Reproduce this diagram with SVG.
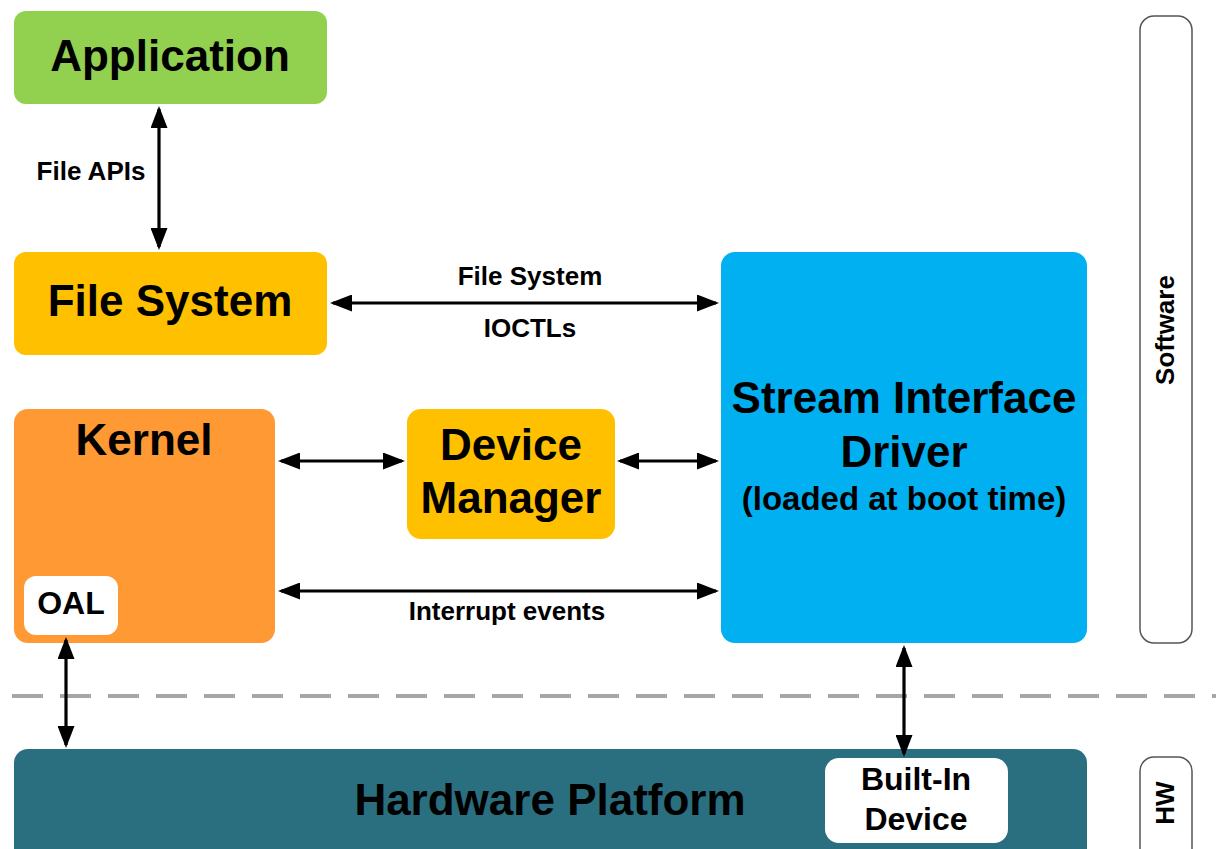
<svg xmlns="http://www.w3.org/2000/svg" width="1216" height="849" viewBox="0 0 1216 849">
<defs>
<style>
text{font-family:"Liberation Sans",Arial,sans-serif;font-weight:bold;fill:#000;text-anchor:middle}
.big{font-size:44px}
.mid{font-size:32px}
.lbl{font-size:26px}
.conn{stroke:#000;stroke-width:3.2;fill:none}
.side{fill:#fff;stroke:#555;stroke-width:1.5}
</style>
<marker id="ah" viewBox="0 0 22 17" refX="19" refY="8.5" markerWidth="22" markerHeight="17" markerUnits="userSpaceOnUse" orient="auto-start-reverse">
<path d="M0,0 L22,8.5 L0,17 z" fill="#000"/>
</marker>
</defs>
<rect width="1216" height="849" fill="#fff"/>

<line x1="12" y1="696" x2="1216" y2="696" stroke="#A6A6A6" stroke-width="4" stroke-dasharray="31 17"/>

<g id="application">
<rect x="14" y="11" width="313" height="93" rx="12" fill="#92D050"/>
<text class="big" x="170" y="71">Application</text>
</g>
<g id="filesystem">
<rect x="14" y="252" width="313" height="103" rx="12" fill="#FFC000"/>
<text class="big" x="170" y="316">File System</text>
</g>
<g id="kernel">
<rect x="14" y="409" width="261" height="234" rx="14" fill="#FF9933"/>
<text class="big" x="144" y="455">Kernel</text>
</g>
<g id="oal">
<rect x="24" y="576" width="94" height="59" rx="12" fill="#fff"/>
<text class="mid" x="71" y="614">OAL</text>
</g>
<g id="devicemanager">
<rect x="407" y="409" width="208" height="130" rx="14" fill="#FFC000"/>
<text class="big" x="511" y="460">Device</text>
<text class="big" x="511" y="513">Manager</text>
</g>
<g id="streamdriver">
<rect x="721" y="252" width="366" height="391" rx="14" fill="#00B0F0"/>
<text class="big" x="904" y="413">Stream Interface</text>
<text class="big" x="904" y="467">Driver</text>
<text style="font-size:33px" x="904" y="510">(loaded at boot time)</text>
</g>
<g id="hardware">
<rect x="14" y="749" width="1073" height="130" rx="14" fill="#2A6F80"/>
<text class="big" x="550" y="815">Hardware Platform</text>
</g>
<g id="builtin">
<rect x="825" y="758" width="183" height="85" rx="14" fill="#fff"/>
<text class="mid" x="916" y="790">Built-In</text>
<text class="mid" x="916" y="830">Device</text>
</g>
<g id="software">
<rect class="side" x="1140" y="16" width="52" height="627" rx="14"/>
<text class="lbl" transform="translate(1174,330) rotate(-90)">Software</text>
</g>
<g id="hw">
<rect class="side" x="1140" y="757" width="52" height="120" rx="14"/>
<text class="lbl" transform="translate(1174,803) rotate(-90)">HW</text>
</g>

<g id="connectors">
<line class="conn" x1="159" y1="109" x2="159" y2="247" marker-start="url(#ah)" marker-end="url(#ah)"/>
<line class="conn" x1="333" y1="303" x2="716" y2="303" marker-start="url(#ah)" marker-end="url(#ah)"/>
<line class="conn" x1="281" y1="461" x2="402" y2="461" marker-start="url(#ah)" marker-end="url(#ah)"/>
<line class="conn" x1="620" y1="461" x2="716" y2="461" marker-start="url(#ah)" marker-end="url(#ah)"/>
<line class="conn" x1="281" y1="591" x2="716" y2="591" marker-start="url(#ah)" marker-end="url(#ah)"/>
<line class="conn" x1="66" y1="640" x2="66" y2="745" marker-start="url(#ah)" marker-end="url(#ah)"/>
<line class="conn" x1="904" y1="648" x2="904" y2="754" marker-start="url(#ah)" marker-end="url(#ah)"/>
<text class="lbl" x="91" y="180">File APIs</text>
<text class="lbl" x="530" y="285">File System</text>
<text class="lbl" x="530" y="337">IOCTLs</text>
<text class="lbl" x="507" y="620">Interrupt events</text>
</g>
</svg>
